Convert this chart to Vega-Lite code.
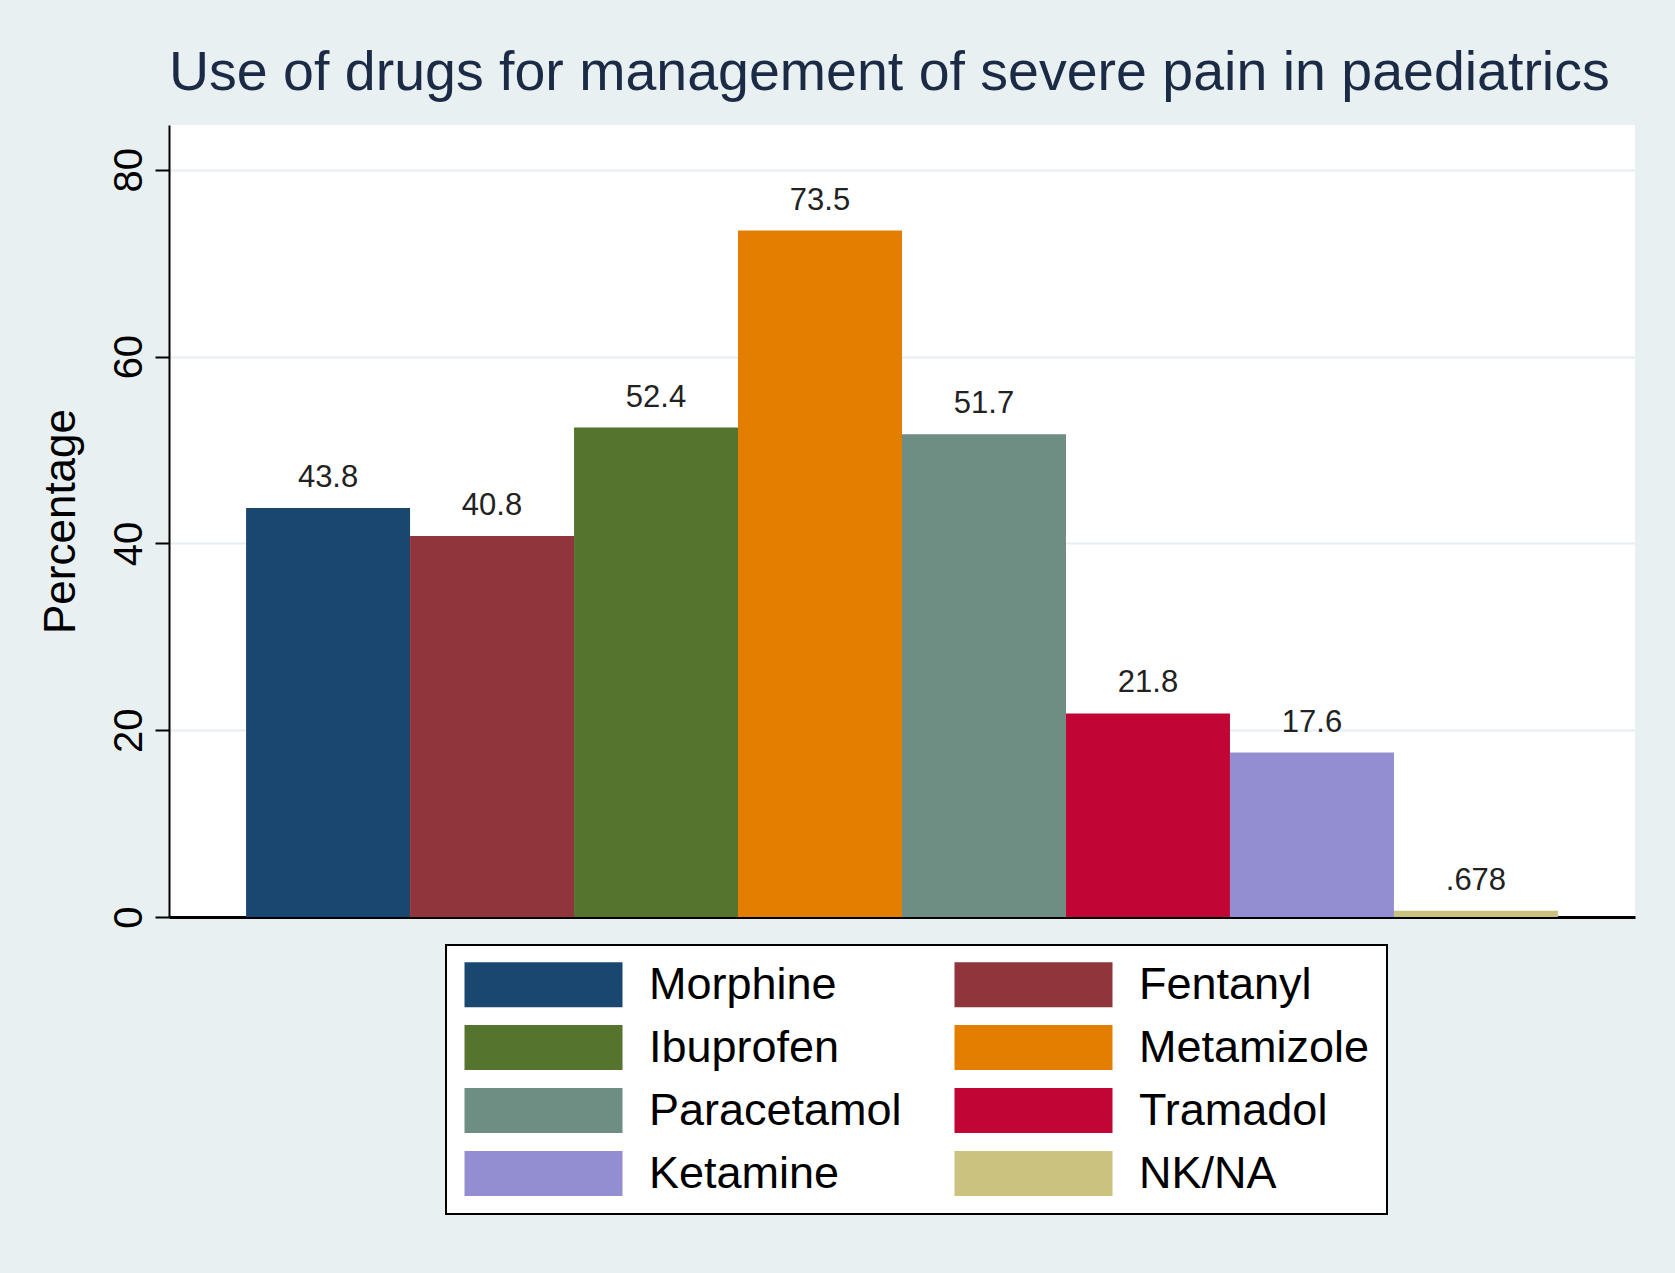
{
  "$schema": "https://vega.github.io/schema/vega-lite/v6.json",
  "autosize": "none",
  "width": 1466,
  "height": 792,
  "padding": {"left": 169, "top": 125, "right": 40, "bottom": 356},
  "background": "#e9f0f2",
  "title": {
    "text": "Use of drugs for management of severe pain in paediatrics",
    "anchor": "start",
    "frame": "group",
    "baseline": "alphabetic",
    "offset": -20,
    "font": "Liberation Sans",
    "fontSize": 55.5,
    "fontWeight": "normal",
    "color": "#1b2a45"
  },
  "data": {
    "values": [
      {"drug": "Morphine", "pct": 43.8, "label": "43.8"},
      {"drug": "Fentanyl", "pct": 40.8, "label": "40.8"},
      {"drug": "Ibuprofen", "pct": 52.4, "label": "52.4"},
      {"drug": "Metamizole", "pct": 73.5, "label": "73.5"},
      {"drug": "Paracetamol", "pct": 51.7, "label": "51.7"},
      {"drug": "Tramadol", "pct": 21.8, "label": "21.8"},
      {"drug": "Ketamine", "pct": 17.6, "label": "17.6"},
      {"drug": "NK/NA", "pct": 0.678, "label": ".678"}
    ]
  },
  "encoding": {
    "x": {
      "field": "drug",
      "type": "nominal",
      "sort": null,
      "scale": {"paddingInner": 0, "paddingOuter": 0.47},
      "axis": {
        "title": null,
        "labels": false,
        "ticks": false,
        "domainColor": "black",
        "domainWidth": 3
      }
    },
    "y": {
      "field": "pct",
      "type": "quantitative",
      "scale": {"domain": [0, 84.8], "nice": false, "zero": true},
      "axis": {
        "title": "Percentage",
        "titleFont": "Liberation Sans",
        "titleFontSize": 44,
        "titleFontWeight": "normal",
        "titleColor": "black",
        "titlePadding": 26,
        "values": [0, 20, 40, 60, 80],
        "labelAngle": 270,
        "labelAlign": "center",
        "labelBaseline": "alphabetic",
        "labelFont": "Liberation Sans",
        "labelFontSize": 40,
        "labelColor": "black",
        "labelPadding": 14,
        "tickSize": 14,
        "tickWidth": 2,
        "tickColor": "black",
        "domainColor": "black",
        "domainWidth": 2,
        "grid": true,
        "gridColor": "#e6eef1",
        "gridWidth": 2
      }
    }
  },
  "layer": [
    {
      "mark": {"type": "bar"},
      "encoding": {
        "color": {
          "field": "drug",
          "type": "nominal",
          "scale": {
            "domain": ["Morphine", "Ibuprofen", "Paracetamol", "Ketamine", "Fentanyl", "Metamizole", "Tramadol", "NK/NA"],
            "range": ["#1a476f", "#55752f", "#6e8e84", "#938dd2", "#90353b", "#e37e00", "#c10534", "#cac27e"]
          },
          "legend": {
            "title": null,
            "orient": "none",
            "legendX": 277,
            "legendY": 820,
            "columns": 2,
            "columnPadding": 51,
            "rowPadding": 17,
            "padding": 17,
            "fillColor": "white",
            "strokeColor": "black",
            "cornerRadius": 0,
            "symbolType": "M-79,-22.5 L79,-22.5 L79,22.5 L-79,22.5 Z",
            "symbolSize": 4,
            "symbolOffset": 58,
            "symbolStrokeWidth": 0,
            "symbolOpacity": 1,
            "labelOffset": 83,
            "labelFont": "Liberation Sans",
            "labelFontSize": 45,
            "labelColor": "black",
            "labelLimit": 400,
            "encode": {
              "legend": {"update": {"strokeWidth": {"value": 2}}}
            }
          }
        }
      }
    },
    {
      "mark": {
        "type": "text",
        "baseline": "alphabetic",
        "dy": -21,
        "font": "Liberation Sans",
        "fontSize": 31,
        "color": "#222222"
      },
      "encoding": {
        "text": {"field": "label", "type": "nominal"}
      }
    }
  ],
  "config": {
    "view": {"stroke": null, "fill": "white"}
  }
}
